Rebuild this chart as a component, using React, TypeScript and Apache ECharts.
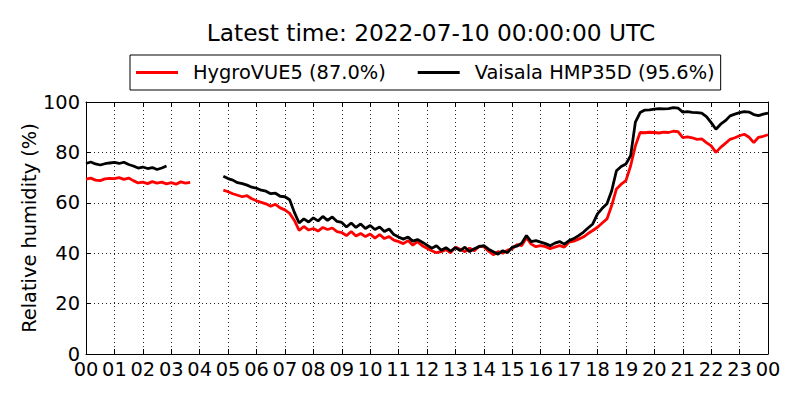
import React, { useEffect, useRef } from "react";
import * as echarts from "echarts";

const TITLE = "Latest time: 2022-07-10 00:00:00 UTC";
const Y_NAME = "Relative humidity (%)";
const NAME_HYGRO = "HygroVUE5 (87.0%)";
const NAME_VAISALA = "Vaisala HMP35D (95.6%)";
const STEP_MINUTES = 10;

// HygroVUE5 relative humidity (%), one value per 10 minutes from 00:00 to 24:00
const HYGROVUE5: (number | null)[] = [
  69.4, 69.8, 69.0, 68.8, 69.5, 69.7,
  69.6, 70.0, 69.3, 69.8, 68.8, 67.9,
  68.2, 67.6, 68.4, 67.8, 68.2, 67.5,
  68.0, 67.4, 68.3, 67.8, 68.1, null,
  null, null, null, null, null, 65.0,
  64.4, 63.6, 63.0, 62.4, 62.8, 61.6,
  60.8, 60.2, 59.6, 58.6, 59.4, 58.0,
  57.2, 55.8, 53.0, 49.0, 50.6, 49.2,
  49.8, 48.8, 50.2, 49.4, 50.0, 48.6,
  48.2, 47.0, 48.6, 46.8, 47.8, 46.6,
  47.6, 46.0, 47.4, 45.8, 46.6, 45.2,
  44.6, 43.8, 45.0, 43.2, 44.6, 43.0,
  42.0, 41.0, 40.2, 40.6, 41.4, 40.2,
  42.4, 41.6, 40.6, 42.0, 41.0, 42.8,
  42.6, 40.8, 39.4, 40.6, 40.0, 41.2,
  41.8, 43.4, 43.0, 46.2, 43.6, 42.6,
  43.0, 42.6, 41.8, 42.4, 43.0, 42.4,
  44.4, 44.8, 45.6, 46.4, 47.8, 49.0,
  50.3, 52.0, 53.6, 58.9, 65.5, 67.4,
  68.8, 74.7, 82.6, 87.9, 87.8, 88.0,
  87.9, 87.7, 88.0, 87.9, 88.4, 88.2,
  85.9, 86.2, 85.8, 85.2, 85.4, 83.9,
  82.6, 80.0, 82.0, 83.6, 85.2, 85.8,
  86.6, 87.2, 86.0, 83.9, 86.0, 86.4,
  87.0,
];

// Vaisala HMP35D relative humidity (%), one value per 10 minutes from 00:00 to 24:00
const HMP35D: (number | null)[] = [
  75.6, 76.2, 75.4, 75.0, 75.5, 75.8,
  76.0, 75.6, 76.1, 75.2, 74.6, 73.8,
  74.2, 73.6, 74.0, 73.2, 73.8, 74.6,
  null, null, null, null, null, null,
  null, null, null, null, null, 70.5,
  69.6, 69.0, 68.0, 67.6, 67.0, 66.2,
  65.8, 65.0, 64.6, 63.6, 63.8, 62.6,
  62.4, 61.2, 56.2, 52.0, 53.6, 52.4,
  54.0, 52.8, 54.6, 53.0, 54.4, 52.6,
  52.2, 50.4, 52.0, 50.2, 51.6, 49.8,
  51.0, 49.4, 50.4, 48.6, 49.6, 47.4,
  46.4, 45.6, 46.4, 44.8, 45.4, 44.4,
  43.2, 42.0, 43.0, 41.2, 42.2, 40.8,
  42.2, 41.0, 42.4, 40.6, 41.8, 42.6,
  43.0, 41.6, 40.6, 39.6, 41.0, 40.2,
  42.4, 42.8, 44.0, 47.0, 44.6, 45.0,
  44.4, 43.8, 43.0, 44.0, 44.6, 43.6,
  45.0, 45.8, 47.0, 48.3, 50.0, 51.6,
  55.6, 57.8, 59.6, 64.8, 72.7, 74.4,
  75.4, 78.7, 92.0, 95.8, 96.8, 96.9,
  97.2, 97.4, 97.3, 97.4, 97.8, 97.6,
  96.0, 96.2, 95.9, 95.8, 95.6, 94.2,
  91.8, 89.2, 91.2, 92.6, 94.5, 95.2,
  95.8, 96.2, 96.0, 95.0, 94.6, 95.2,
  95.6,
];

const FONT = "DejaVu Sans";
const FS = 19.4;

function toPairs(values: (number | null)[]) {
  return values.map((v, i) => [(i * STEP_MINUTES) / 60, v]);
}

function hourLabel(v: number) {
  const h = Math.round(v) % 24;
  return (h < 10 ? "0" : "") + h;
}

export default function App() {
  const ref = useRef<HTMLDivElement>(null);
  useEffect(() => {
    if (!ref.current) return;
    const chart = echarts.init(ref.current, undefined, { renderer: "svg" });
    const grid = { left: 86, right: 32, top: 102, bottom: 46 };
    const splitLine = {
      show: true,
      lineStyle: { color: "#000", width: 1, type: [1, 3] as number[], opacity: 0.85 },
    };
    const axisLine = { show: true, onZero: false, lineStyle: { color: "#000", width: 1 } };
    const tick = { show: true, inside: true, length: 5, lineStyle: { color: "#000", width: 1 } };
    chart.setOption({
      animation: false,
      backgroundColor: "#fff",
      title: {
        text: TITLE,
        left: 426,
        textAlign: "center",
        top: 16,
        textStyle: { fontFamily: FONT, fontSize: 23.3, fontWeight: "normal", color: "#000" },
      },
      legend: {
        left: 130,
        top: 55,
        icon: "rect",
        itemWidth: 42,
        itemHeight: 3,
        itemGap: 32,
        padding: [6, 6, 6, 6],
        borderColor: "#000",
        borderWidth: 1,
        borderRadius: 0,
        textStyle: {
          fontFamily: FONT,
          fontSize: FS,
          color: "#000",
          padding: [0, 0, 0, 10],
          lineHeight: 23,
        },
        data: [NAME_HYGRO, NAME_VAISALA],
      },
      grid: { ...grid, show: false },
      xAxis: [
        {
          type: "value",
          min: 0,
          max: 24,
          interval: 1,
          position: "bottom",
          axisLine,
          axisTick: tick,
          splitLine,
          axisLabel: {
            fontFamily: FONT,
            fontSize: FS,
            color: "#000",
            margin: 7,
            lineHeight: 16,
            formatter: hourLabel,
          },
        },
        {
          type: "value",
          min: 0,
          max: 24,
          interval: 1,
          position: "top",
          axisLine,
          axisTick: tick,
          splitLine: { show: false },
          axisLabel: { show: false },
        },
      ],
      yAxis: [
        {
          type: "value",
          min: 0,
          max: 100,
          interval: 20,
          position: "left",
          name: Y_NAME,
          nameLocation: "middle",
          nameGap: 47,
          nameMoveOverlap: false,
          nameTextStyle: { fontFamily: FONT, fontSize: FS, color: "#000" },
          axisLine,
          axisTick: tick,
          splitLine,
          axisLabel: {
            fontFamily: FONT,
            fontSize: FS,
            color: "#000",
            margin: 6,
            lineHeight: 12,
          },
        },
        {
          type: "value",
          min: 0,
          max: 100,
          interval: 20,
          position: "right",
          axisLine,
          axisTick: tick,
          splitLine: { show: false },
          axisLabel: { show: false },
        },
      ],
      series: [
        {
          name: NAME_HYGRO,
          type: "line",
          data: toPairs(HYGROVUE5),
          showSymbol: false,
          symbol: "none",
          connectNulls: false,
          lineStyle: { color: "#ff0000", width: 2.8 },
          itemStyle: { color: "#ff0000" },
        },
        {
          name: NAME_VAISALA,
          type: "line",
          data: toPairs(HMP35D),
          showSymbol: false,
          symbol: "none",
          connectNulls: false,
          lineStyle: { color: "#000000", width: 2.8 },
          itemStyle: { color: "#000000" },
        },
      ],
    });
    return () => chart.dispose();
  }, []);
  return (
    <div
      ref={ref}
      style={{ position: "absolute", left: 0, top: 0, width: 800, height: 400 }}
    />
  );
}
